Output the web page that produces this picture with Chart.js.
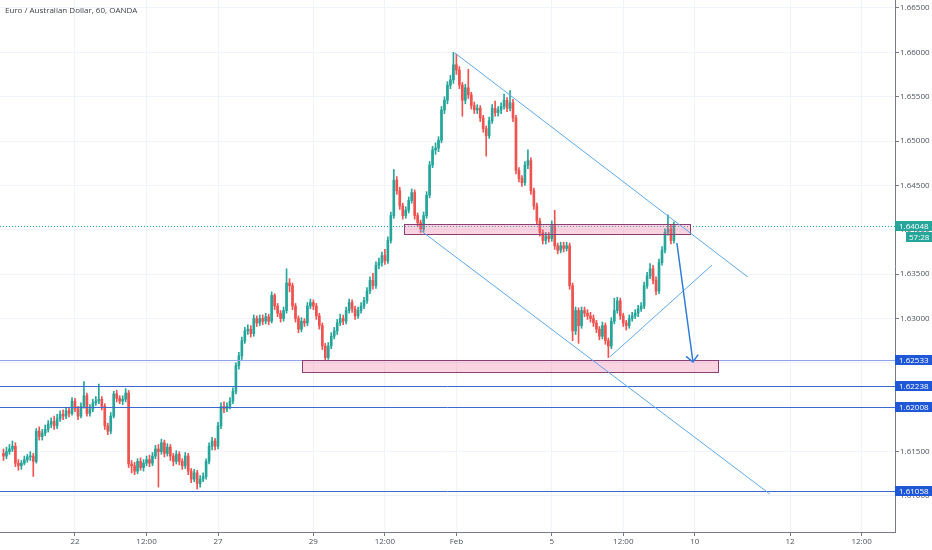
<!DOCTYPE html>
<html>
<head>
<meta charset="utf-8">
<title>EURAUD 60</title>
<script src="https://cdn.jsdelivr.net/npm/chart.js@4.4.1/dist/chart.umd.min.js"></script>
<style>
  html, body { margin: 0; padding: 0; background: #ffffff; }
  #wrap { width: 932px; height: 550px; }
</style>
</head>
<body>
<div id="wrap"><canvas id="fxChart" width="932" height="550"></canvas></div>
<script>
// --- CANDLE DATA (EUR/AUD, 60 min) ---
const opens = [
  1.6148,1.6145,1.6150,1.6153,1.6156,1.6137,1.6134,1.6137,1.6141,1.6144,
  1.6145,1.6139,1.6173,1.6167,1.6171,1.6175,1.6181,1.6184,1.6179,1.6187,
  1.6192,1.6190,1.6196,1.6193,1.6207,1.6198,1.6190,1.6201,1.6213,1.6193,
  1.6198,1.6205,1.6207,1.6209,1.6201,1.6179,1.6173,1.6190,1.6215,1.6210,
  1.6207,1.6209,1.6216,1.6136,1.6134,1.6128,1.6139,1.6132,1.6137,1.6141,
  1.6137,1.6145,1.6153,1.6150,1.6160,1.6148,1.6155,1.6145,1.6139,1.6147,
  1.6139,1.6134,1.6145,1.6128,1.6119,1.6126,1.6114,1.6119,1.6122,1.6139,
  1.6156,1.6162,1.6156,1.6179,1.6201,1.6198,1.6201,1.6207,1.6218,1.6247,
  1.6258,1.6275,1.6286,1.6288,1.6283,1.6300,1.6295,1.6300,1.6297,1.6302,
  1.6297,1.6326,1.6314,1.6306,1.6300,1.6309,1.6340,1.6337,1.6314,1.6300,
  1.6288,1.6297,1.6295,1.6314,1.6318,1.6314,1.6303,1.6292,1.6269,1.6256,
  1.6269,1.6280,1.6286,1.6295,1.6300,1.6297,1.6309,1.6318,1.6311,1.6303,
  1.6309,1.6314,1.6320,1.6331,1.6343,1.6337,1.6360,1.6363,1.6371,1.6365,
  1.6388,1.6416,1.6456,1.6444,1.6427,1.6416,1.6422,1.6433,1.6442,1.6416,
  1.6408,1.6401,1.6416,1.6439,1.6473,1.6490,1.6492,1.6501,1.6535,1.6546,
  1.6563,1.6569,1.6586,1.6580,1.6563,1.6546,1.6560,1.6552,1.6540,1.6535,
  1.6537,1.6526,1.6514,1.6506,1.6523,1.6537,1.6532,1.6535,1.6539,1.6546,
  1.6537,1.6543,1.6526,1.6467,1.6458,1.6453,1.6473,1.6478,1.6444,1.6427,
  1.6410,1.6397,1.6388,1.6393,1.6390,1.6405,1.6382,1.6377,1.6382,1.6379,
  1.6382,1.6337,1.6286,1.6309,1.6292,1.6309,1.6306,1.6303,1.6300,1.6295,
  1.6288,1.6280,1.6292,1.6275,1.6269,1.6297,1.6309,1.6320,1.6303,1.6295,
  1.6292,1.6300,1.6303,1.6306,1.6311,1.6314,1.6337,1.6348,1.6356,1.6343,
  1.6331,1.6363,1.6377,1.6397,1.6401,1.6388
];
const highs = [
  1.6153,1.6155,1.6158,1.6162,1.6160,1.6141,1.6140,1.6145,1.6147,1.6150,
  1.6148,1.6176,1.6178,1.6175,1.6180,1.6185,1.6188,1.6190,1.6192,1.6196,
  1.6197,1.6200,1.6200,1.6211,1.6210,1.6201,1.6205,1.6229,1.6216,1.6203,
  1.6209,1.6212,1.6226,1.6212,1.6204,1.6182,1.6194,1.6218,1.6219,1.6213,
  1.6213,1.6221,1.6219,1.6140,1.6138,1.6142,1.6143,1.6141,1.6145,1.6146,
  1.6149,1.6157,1.6158,1.6164,1.6163,1.6159,1.6158,1.6148,1.6151,1.6150,
  1.6142,1.6149,1.6148,1.6131,1.6130,1.6129,1.6123,1.6126,1.6142,1.6160,
  1.6166,1.6165,1.6183,1.6205,1.6206,1.6205,1.6211,1.6222,1.6250,1.6262,
  1.6279,1.6290,1.6293,1.6292,1.6304,1.6303,1.6304,1.6304,1.6306,1.6305,
  1.6330,1.6328,1.6317,1.6309,1.6313,1.6356,1.6345,1.6340,1.6317,1.6303,
  1.6301,1.6300,1.6318,1.6322,1.6321,1.6317,1.6306,1.6295,1.6272,1.6273,
  1.6284,1.6290,1.6299,1.6305,1.6304,1.6313,1.6322,1.6321,1.6314,1.6313,
  1.6318,1.6324,1.6335,1.6347,1.6351,1.6364,1.6368,1.6375,1.6378,1.6392,
  1.6420,1.6468,1.6460,1.6448,1.6430,1.6426,1.6437,1.6446,1.6445,1.6419,
  1.6411,1.6420,1.6443,1.6477,1.6494,1.6498,1.6505,1.6539,1.6550,1.6567,
  1.6574,1.6600,1.6598,1.6584,1.6566,1.6564,1.6581,1.6555,1.6544,1.6541,
  1.6540,1.6529,1.6517,1.6527,1.6541,1.6545,1.6539,1.6543,1.6553,1.6549,
  1.6557,1.6547,1.6529,1.6470,1.6461,1.6477,1.6490,1.6481,1.6447,1.6430,
  1.6413,1.6400,1.6397,1.6397,1.6410,1.6422,1.6385,1.6386,1.6386,1.6386,
  1.6385,1.6340,1.6313,1.6312,1.6313,1.6313,1.6310,1.6307,1.6304,1.6298,
  1.6291,1.6296,1.6295,1.6278,1.6301,1.6323,1.6324,1.6323,1.6306,1.6298,
  1.6304,1.6307,1.6310,1.6315,1.6318,1.6341,1.6352,1.6362,1.6360,1.6347,
  1.6367,1.6381,1.6401,1.6417,1.6405,1.6409
];
const lows = [
  1.6140,1.6142,1.6147,1.6150,1.6133,1.6129,1.6130,1.6135,1.6138,1.6140,
  1.6122,1.6137,1.6163,1.6163,1.6168,1.6172,1.6177,1.6175,1.6176,1.6184,
  1.6186,1.6187,1.6189,1.6191,1.6195,1.6186,1.6188,1.6199,1.6190,1.6190,
  1.6195,1.6202,1.6204,1.6197,1.6175,1.6169,1.6170,1.6188,1.6206,1.6204,
  1.6203,1.6206,1.6132,1.6126,1.6124,1.6125,1.6129,1.6128,1.6134,1.6133,
  1.6134,1.6142,1.6110,1.6147,1.6144,1.6145,1.6140,1.6134,1.6136,1.6135,
  1.6130,1.6131,1.6124,1.6115,1.6116,1.6108,1.6110,1.6116,1.6119,1.6136,
  1.6152,1.6152,1.6153,1.6176,1.6194,1.6195,1.6198,1.6204,1.6215,1.6243,
  1.6254,1.6272,1.6282,1.6279,1.6280,1.6291,1.6292,1.6293,1.6294,1.6293,
  1.6295,1.6310,1.6302,1.6296,1.6297,1.6306,1.6330,1.6310,1.6296,1.6284,
  1.6285,1.6291,1.6292,1.6311,1.6310,1.6299,1.6288,1.6265,1.6253,1.6254,
  1.6266,1.6277,1.6282,1.6292,1.6293,1.6294,1.6306,1.6307,1.6299,1.6300,
  1.6306,1.6311,1.6317,1.6328,1.6333,1.6334,1.6356,1.6359,1.6361,1.6362,
  1.6385,1.6413,1.6440,1.6423,1.6412,1.6413,1.6419,1.6430,1.6412,1.6404,
  1.6397,1.6398,1.6413,1.6436,1.6470,1.6485,1.6488,1.6498,1.6531,1.6542,
  1.6559,1.6565,1.6575,1.6559,1.6528,1.6542,1.6548,1.6536,1.6531,1.6531,
  1.6522,1.6510,1.6483,1.6503,1.6520,1.6528,1.6528,1.6531,1.6536,1.6533,
  1.6534,1.6522,1.6463,1.6454,1.6449,1.6450,1.6469,1.6440,1.6423,1.6406,
  1.6393,1.6384,1.6384,1.6386,1.6387,1.6378,1.6373,1.6374,1.6375,1.6376,
  1.6333,1.6275,1.6282,1.6272,1.6289,1.6302,1.6299,1.6296,1.6291,1.6284,
  1.6276,1.6277,1.6271,1.6256,1.6266,1.6294,1.6306,1.6299,1.6291,1.6287,
  1.6289,1.6297,1.6300,1.6302,1.6308,1.6311,1.6334,1.6345,1.6339,1.6327,
  1.6328,1.6360,1.6374,1.6394,1.6384,1.6385
];
const closes = [
  1.6145,1.6150,1.6153,1.6156,1.6137,1.6134,1.6137,1.6141,1.6144,1.6145,
  1.6139,1.6173,1.6167,1.6171,1.6175,1.6181,1.6184,1.6179,1.6187,1.6192,
  1.6190,1.6196,1.6193,1.6207,1.6198,1.6190,1.6201,1.6213,1.6193,1.6198,
  1.6205,1.6207,1.6209,1.6201,1.6179,1.6173,1.6190,1.6215,1.6210,1.6207,
  1.6209,1.6216,1.6136,1.6134,1.6128,1.6139,1.6132,1.6137,1.6141,1.6137,
  1.6145,1.6153,1.6150,1.6160,1.6148,1.6155,1.6145,1.6139,1.6147,1.6139,
  1.6134,1.6145,1.6128,1.6119,1.6126,1.6114,1.6119,1.6122,1.6139,1.6156,
  1.6162,1.6156,1.6179,1.6201,1.6198,1.6201,1.6207,1.6218,1.6247,1.6258,
  1.6275,1.6286,1.6288,1.6283,1.6300,1.6295,1.6300,1.6297,1.6302,1.6297,
  1.6326,1.6314,1.6306,1.6300,1.6309,1.6340,1.6337,1.6314,1.6300,1.6288,
  1.6297,1.6295,1.6314,1.6318,1.6314,1.6303,1.6292,1.6269,1.6256,1.6269,
  1.6280,1.6286,1.6295,1.6300,1.6297,1.6309,1.6318,1.6311,1.6303,1.6309,
  1.6314,1.6320,1.6331,1.6343,1.6337,1.6360,1.6363,1.6371,1.6365,1.6388,
  1.6416,1.6456,1.6444,1.6427,1.6416,1.6422,1.6433,1.6442,1.6416,1.6408,
  1.6401,1.6416,1.6439,1.6473,1.6490,1.6492,1.6501,1.6535,1.6546,1.6563,
  1.6569,1.6586,1.6580,1.6563,1.6546,1.6560,1.6552,1.6540,1.6535,1.6537,
  1.6526,1.6514,1.6506,1.6523,1.6537,1.6532,1.6535,1.6539,1.6546,1.6537,
  1.6543,1.6526,1.6467,1.6458,1.6453,1.6473,1.6478,1.6444,1.6427,1.6410,
  1.6397,1.6388,1.6393,1.6390,1.6405,1.6382,1.6377,1.6382,1.6379,1.6382,
  1.6337,1.6286,1.6309,1.6292,1.6309,1.6306,1.6303,1.6300,1.6295,1.6288,
  1.6280,1.6292,1.6275,1.6269,1.6297,1.6309,1.6320,1.6303,1.6295,1.6292,
  1.6300,1.6303,1.6306,1.6311,1.6314,1.6337,1.6348,1.6356,1.6343,1.6331,
  1.6363,1.6377,1.6397,1.6401,1.6388,1.64048
];

// --- AXIS TICKS ---
const timeTickIdx = [24, 48, 72, 104, 128, 152, 184, 208, 232, 264, 288];
const timeTickLabels = ['22', '12:00', '27', '29', '12:00', 'Feb', '5', '12:00', '10', '12', '12:00'];
const priceTicks = [1.610, 1.615, 1.620, 1.625, 1.630, 1.635, 1.640, 1.645, 1.650, 1.655, 1.660, 1.665];

// --- DRAWINGS (bar index, price) ---
const levelPrices = [1.62533, 1.62238, 1.62008, 1.61058];
const lastPrice = 1.64048;
const countdown = '57:28';
const zones = [
  { x1: 134.4, x2: 230.4, top: 1.64065, bottom: 1.63953 },
  { x1: 100.2, x2: 239.8, top: 1.62533, bottom: 1.62398 }
];
const trendLines = [
  { x1: 151.5, y1: 1.65993, x2: 249.8, y2: 1.63468 },
  { x1: 139.8, y1: 1.63998, x2: 257.2, y2: 1.61022 },
  { x1: 203.5, y1: 1.62567, x2: 237.8, y2: 1.63603 }
];
const arrowLine = { x1: 226.0, y1: 1.63851, x2: 231.4, y2: 1.62510 };

const UP = '#26a69a', DOWN = '#ef5350';
const FONT = "'Open Sans', 'Liberation Sans', sans-serif";

// --- DRAWING TOOLS PLUGIN ---
const drawingsPlugin = {
  id: 'tvDrawings',
  afterDatasetsDraw(chart) {
    const { ctx, chartArea: a, scales: { x, y } } = chart;
    ctx.save();
    ctx.beginPath();
    ctx.rect(a.left, a.top, a.right - a.left, a.bottom - a.top);
    ctx.clip();

    // last price dotted line
    const ly = Math.round(y.getPixelForValue(lastPrice)) + 0.5;
    ctx.strokeStyle = UP;
    ctx.lineWidth = 1;
    ctx.setLineDash([1, 2]);
    ctx.beginPath(); ctx.moveTo(a.left, ly); ctx.lineTo(a.right, ly); ctx.stroke();
    ctx.setLineDash([]);

    // support / resistance levels
    levelPrices.forEach((p, i) => {
      const py = Math.round(y.getPixelForValue(p)) + 0.5;
      ctx.strokeStyle = i === 0 ? '#8aa6e6' : '#3d68d0';
      ctx.beginPath(); ctx.moveTo(a.left, py); ctx.lineTo(a.right, py); ctx.stroke();
    });

    // pink zones
    zones.forEach(z => {
      const x1 = x.getPixelForValue(z.x1), x2 = x.getPixelForValue(z.x2);
      const y1 = y.getPixelForValue(z.top), y2 = y.getPixelForValue(z.bottom);
      ctx.fillStyle = 'rgba(240, 98, 146, 0.28)';
      ctx.fillRect(x1, y1, x2 - x1, y2 - y1);
      ctx.strokeStyle = '#8a3f74';
      ctx.strokeRect(Math.round(x1) + 0.5, Math.round(y1) + 0.5, Math.round(x2 - x1), Math.round(y2 - y1));
    });

    // channel lines
    ctx.strokeStyle = '#5ea8e6';
    ctx.lineWidth = 1;
    trendLines.forEach(t => {
      ctx.beginPath();
      ctx.moveTo(x.getPixelForValue(t.x1), y.getPixelForValue(t.y1));
      ctx.lineTo(x.getPixelForValue(t.x2), y.getPixelForValue(t.y2));
      ctx.stroke();
    });

    // target arrow
    const ax1 = x.getPixelForValue(arrowLine.x1), ay1 = y.getPixelForValue(arrowLine.y1);
    const ax2 = x.getPixelForValue(arrowLine.x2), ay2 = y.getPixelForValue(arrowLine.y2);
    const ang = Math.atan2(ay2 - ay1, ax2 - ax1);
    ctx.strokeStyle = '#2f7bd6';
    ctx.lineWidth = 1.5;
    ctx.beginPath();
    ctx.moveTo(ax1, ay1); ctx.lineTo(ax2, ay2);
    ctx.moveTo(ax2 - 9 * Math.cos(ang - 0.75), ay2 - 9 * Math.sin(ang - 0.75));
    ctx.lineTo(ax2, ay2);
    ctx.lineTo(ax2 - 9 * Math.cos(ang + 0.75), ay2 - 9 * Math.sin(ang + 0.75));
    ctx.stroke();
    ctx.restore();
  },
  afterDraw(chart) {
    const { ctx, chartArea: a, scales: { y } } = chart;
    ctx.save();
    ctx.font = '8px ' + FONT;
    ctx.textBaseline = 'middle';
    ctx.textAlign = 'left';

    // price label boxes on the axis
    const tag = (p, bg) => {
      const py = Math.round(y.getPixelForValue(p));
      ctx.fillStyle = bg;
      ctx.fillRect(a.right, py - 5, chart.width - a.right, 10);
      ctx.fillStyle = '#ffffff';
      ctx.fillText(p.toFixed(5), a.right + 4, py + 0.5);
      return py;
    };
    levelPrices.forEach(p => tag(p, '#1f58d6'));
    const cy = tag(lastPrice, UP);
    ctx.fillStyle = UP;
    ctx.fillRect(a.right + 11, cy + 6, chart.width - a.right - 11, 10);
    ctx.fillStyle = '#ffffff';
    ctx.fillText(countdown, a.right + 14, cy + 11.5);

    // symbol title
    ctx.fillStyle = '#3a3e48';
    ctx.font = '8px ' + FONT;
    ctx.fillText('Euro / Australian Dollar, 60, OANDA', 5, 11);
    ctx.restore();
  }
};

// --- CHART.JS CONFIGURATION ---
function candleColors() {
  return closes.map((c, i) => c >= opens[i] ? UP : DOWN);
}

function initFxChart() {
  const colors = candleColors();
  const ctx = document.getElementById('fxChart').getContext('2d');
  return new Chart(ctx, {
    type: 'bar',
    data: {
      datasets: [
        {
          label: 'body',
          data: closes.map((c, i) => ({ x: i, y: [opens[i], c] })),
          backgroundColor: colors,
          barThickness: 2,
          minBarLength: 1,
          grouped: false
        },
        {
          label: 'wick',
          data: closes.map((c, i) => ({ x: i, y: [lows[i], highs[i]] })),
          backgroundColor: colors,
          barThickness: 1,
          grouped: false
        }
      ]
    },
    options: {
      responsive: false,
      animation: false,
      events: [],
      layout: { padding: 0 },
      plugins: { legend: { display: false }, tooltip: { enabled: false } },
      scales: {
        x: {
          type: 'linear',
          min: -1.17,
          max: 299.2,
          offset: false,
          grid: { color: '#f0f3fa', tickColor: '#787b86', tickLength: 4, offset: false },
          border: { color: '#787b86' },
          ticks: {
            color: '#4c525e', font: { size: 8, family: FONT }, padding: 1,
            maxRotation: 0, autoSkip: false,
            callback: (v, i) => timeTickLabels[i]
          },
          afterBuildTicks: s => { s.ticks = timeTickIdx.map(v => ({ value: v })); },
          afterFit: s => { s.height = 18; s.paddingLeft = 0; s.paddingRight = 0; }
        },
        y: {
          type: 'linear',
          position: 'right',
          min: 1.60594,
          max: 1.66590,
          grid: { color: '#f0f3fa', tickColor: '#787b86', tickLength: 4 },
          border: { color: '#787b86' },
          ticks: {
            color: '#4c525e', font: { size: 8, family: FONT }, padding: 1,
            callback: v => v.toFixed(5)
          },
          afterBuildTicks: s => { s.ticks = priceTicks.map(v => ({ value: v })); },
          afterFit: s => { s.width = 37; s.paddingTop = 0; s.paddingBottom = 0; }
        }
      }
    },
    plugins: [drawingsPlugin]
  });
}

initFxChart();
</script>
</body>
</html>
